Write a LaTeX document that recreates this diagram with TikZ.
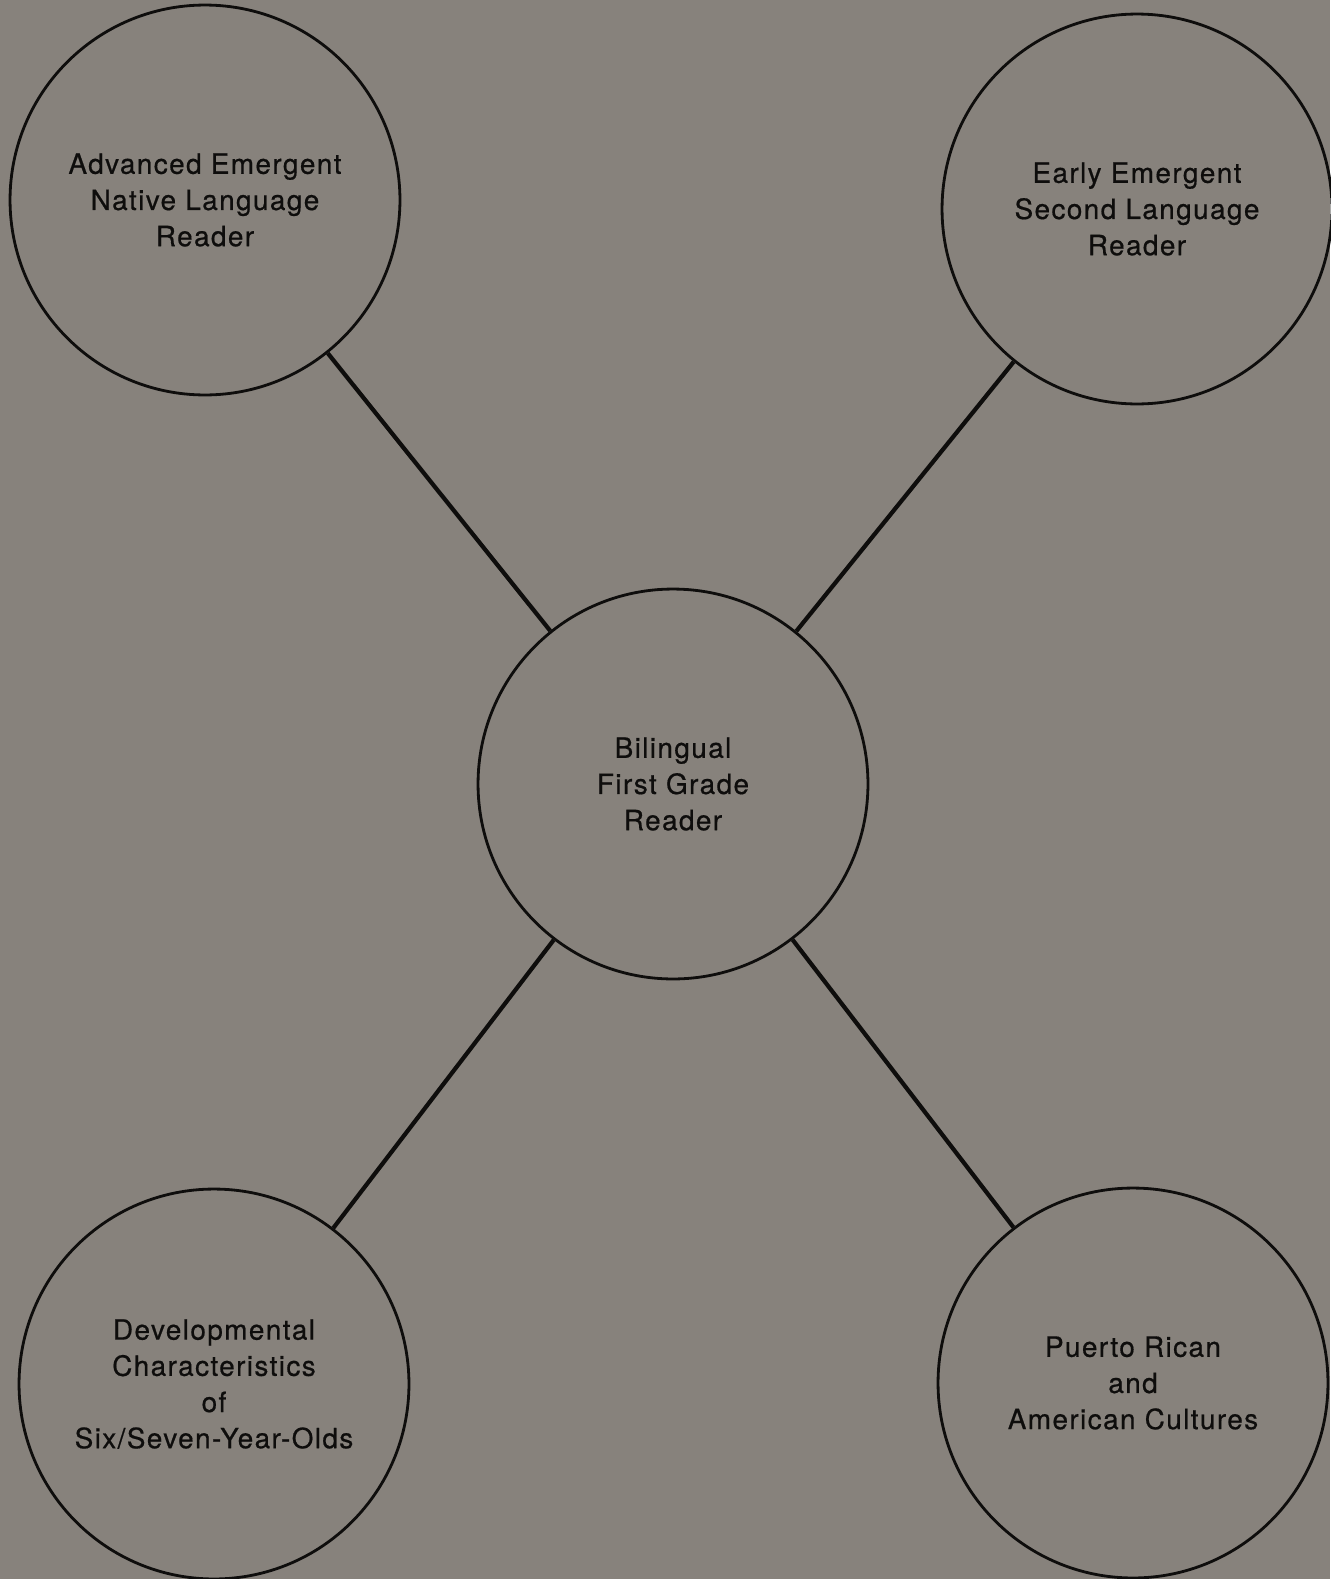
\documentclass[tikz,border=0pt]{standalone}
\usepackage{fontspec}
\setmainfont{TeX Gyre Heros}[LetterSpace=5, FakeBold=0.6]
\usepackage{tikz}
\definecolor{paper}{RGB}{135,130,124}
\definecolor{ink}{RGB}{14,13,12}

\begin{document}
\begin{tikzpicture}[
    x=0.02cm, y=-0.02cm,
    every node/.style={font=\fontsize{15.9pt}{20.6pt}\selectfont, text=ink},
    topic/.style={circle, draw=ink, line width=1.6pt, minimum size=7.8cm,
                  inner sep=0pt, align=center},
    link/.style={draw=ink, line width=2.4pt}
]
\path[use as bounding box, fill=paper] (0,0) rectangle (1330,1579);
\node[topic] (adv)   at (205, 200)   {Advanced Emergent\\Native Language\\Reader};
\node[topic] (early) at (1137, 209)  {Early Emergent\\Second Language\\Reader};
\node[topic] (hub)   at (673, 784)   {Bilingual\\First Grade\\Reader};
\node[topic] (dev)   at (214, 1384)  {Developmental\\Characteristics\\of\\Six/Seven-Year-Olds};
\node[topic] (cult)  at (1133, 1383) {Puerto Rican\\and\\American Cultures};
\draw[link] (adv)   -- (hub);
\draw[link] (early) -- (hub);
\draw[link] (dev)   -- (hub);
\draw[link] (cult)  -- (hub);
\end{tikzpicture}
\end{document}
